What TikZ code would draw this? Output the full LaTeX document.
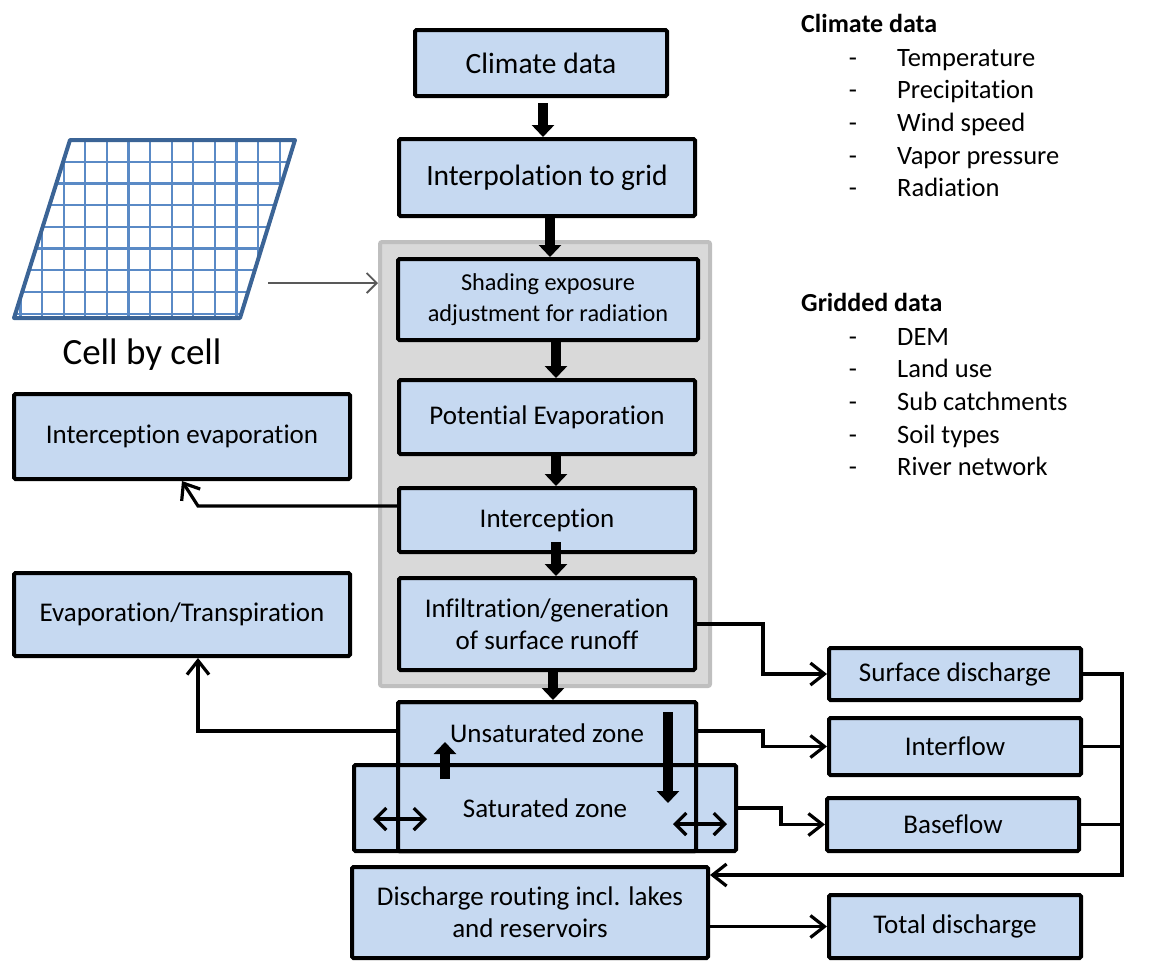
\documentclass[tikz,border=0pt]{standalone}
\usepackage{fontspec}
\setmainfont{Carlito}[Ligatures=NoCommon]
\usetikzlibrary{arrows.meta}
\definecolor{boxblue}{HTML}{C6D9F1}
\definecolor{bggray}{HTML}{D9D9D9}
\definecolor{bgedge}{HTML}{BFBFBF}
\definecolor{gridedge}{HTML}{3B6496}
\definecolor{gridline}{HTML}{5A8AC6}
\begin{document}
\begin{tikzpicture}[x=1pt,y=-1pt,
  box/.style={draw=black, line width=4pt, fill=boxblue, rounded corners=1.5pt,
    inner sep=0pt, align=center, font=\fontsize{27}{32}\selectfont},
  bigtext/.style={font=\fontsize{29.5}{34}\selectfont},
  thickarrow/.style={line width=10pt, -{Triangle[length=12pt,width=22pt]}},
  conn/.style={line width=3.2pt, -{Straight Barb[length=14pt,width=22pt,line width=3.2pt]}},
  plainline/.style={line width=2.6pt},
  dbl/.style={line width=3.2pt, {Straight Barb[length=11pt,width=22pt,line width=3.2pt]}-{Straight Barb[length=11pt,width=22pt,line width=3.2pt]}},
  listtext/.style={anchor=base west, inner sep=0pt, font=\fontsize{26.5}{32}\selectfont},
  dashtext/.style={anchor=base, inner sep=0pt, font=\fontsize{26.5}{32}\selectfont},
  headtext/.style={anchor=base west, inner sep=0pt, font=\bfseries\fontsize{26}{32}\selectfont}
]
\useasboundingbox (0,0) rectangle (1171,962);

% grid parallelogram
\begin{scope}
  \clip (70,140) -- (295,140) -- (240,318) -- (14,318) -- cycle;
  \foreach \k in {0,...,12} {
    \draw[gridline, line width=2.2pt] ({20.5+21.6*\k},130) -- ({20.5+21.6*\k},330);
  }
  \foreach \k in {1,...,8} {
    \draw[gridline, line width=2.2pt] (0,{140+21.7*\k}) -- (300,{140+21.7*\k});
  }
\end{scope}
\draw[gridedge, line width=4pt, line join=round] (70,140) -- (295,140) -- (240,318) -- (14,318) -- cycle;
\coordinate (gridpt) at (268,283);
\node[inner sep=0pt, font=\fontsize{37}{40}\selectfont] (cell) at (142,355) {Cell by cell};

% gray background
\node[draw=bgedge, fill=bggray, line width=4pt, rounded corners=2pt, minimum width=330pt, minimum height=444pt, inner sep=0pt] (bg) at (545,464) {};

% main boxes
\node[box, bigtext, minimum width=252pt, minimum height=66pt] (clim) at (541,63) {Climate data};
\node[box, bigtext, minimum width=296pt, minimum height=77pt] (interp) at (547,177.5) {Interpolation to grid};
\node[box, font=\fontsize{24.3}{31}\selectfont, minimum width=300pt, minimum height=81pt] (shade) at (548,299.5) {Shading exposure\\adjustment for radiation};
\node[box, minimum width=296pt, minimum height=74pt] (pot) at (547,417) {Potential Evaporation};
\node[box, minimum width=296pt, minimum height=64pt] (icpt) at (547,520) {Interception};
\node[box, minimum width=296pt, minimum height=92pt] (infil) at (547,624) {Infiltration/generation\\of surface runoff};
\node[box, minimum width=336pt, minimum height=85pt] (ievap) at (182,436.5) {Interception evaporation};
\node[box, minimum width=336pt, minimum height=83pt] (etrans) at (182,614.5) {Evaporation/Transpiration};

% unsaturated and saturated zones
\node[box, minimum width=298pt, minimum height=149pt] (unsat) at (547,776.5) {};
\node[box, minimum width=382pt, minimum height=86pt] (sat) at (545,808) {Saturated zone};
\node[draw=black, line width=4pt, rounded corners=1.5pt, minimum width=298pt, minimum height=149pt, inner sep=0pt] (unsatedge) at (547,776.5) {};
\node[inner sep=0pt, font=\fontsize{27}{32}\selectfont] (ulabel) at (547,733) {Unsaturated zone};

\node[box, minimum width=356pt, minimum height=91pt] (route) at (530,912.5) {Discharge routing incl. lakes\\and reservoirs};
\node[box, minimum width=252pt, minimum height=52pt] (surf) at (955,674) {Surface discharge};
\node[box, minimum width=252pt, minimum height=57pt] (intf) at (955,746.5) {Interflow};
\node[box, minimum width=252pt, minimum height=53pt] (base) at (953,824.5) {Baseflow};
\node[box, minimum width=252pt, minimum height=63pt] (total) at (955,926.5) {Total discharge};

% thick arrows along the main chain
\coordinate (a1) at (543,0);
\coordinate (a2) at (550,0);
\coordinate (a3) at (556,0);
\coordinate (a4) at (553,0);
\draw[thickarrow] ([yshift=-5pt]clim.south -| a1) -- (interp.north -| a1);
\draw[thickarrow] (interp.south -| a2) -- (shade.north -| a2);
\draw[thickarrow] (shade.south -| a3) -- (pot.north -| a3);
\draw[thickarrow] (pot.south -| a3) -- (icpt.north -| a3);
\draw[thickarrow] ([yshift=12pt]icpt.south -| a3) -- (infil.north -| a3);
\draw[thickarrow] (infil.south -| a4) -- (unsat.north -| a4);

% exchanges between zones
\coordinate (upb) at (445,779);
\coordinate (upt) at (445,742);
\coordinate (dnt) at (668,712);
\coordinate (dnb) at (668,803);
\draw[thickarrow] (upb) -- (upt);
\draw[thickarrow] (dnt) -- (dnb);
\coordinate (dl1) at (373,819);
\coordinate (dl2) at (427,819);
\coordinate (dr1) at (673,824);
\coordinate (dr2) at (727,824);
\draw[dbl] (dl1) -- (dl2);
\draw[dbl] (dr1) -- (dr2);

% grid to model
\draw[line width=1.8pt, draw=black!65, -{Straight Barb[length=10pt,width=20pt,line width=1.8pt]}] (gridpt) -- (gridpt -| bg.west);

% left side connectors
\coordinate (c1) at (198,506);
\draw[conn] (icpt.west |- c1) -- (c1) -- (ievap.south);
\coordinate (c2) at (198,731);
\draw[conn] (unsat.west |- c2) -- (c2) -- (c2 |- etrans.south);

% right side connectors
\coordinate (c3) at (763,0);
\coordinate (c4) at (781,0);
\coordinate (c5) at (1122,875);
\draw[conn] (infil.east) -| (c3 |- surf.west) -- (surf.west);
\draw[conn] (unsat.east |- c2) -| (c3 |- intf.west) -- (intf.west);
\draw[conn] (sat.east) -| (c4 |- base.west) -- (base.west);
\draw[conn] (surf.east) -| (c5) -- (c5 -| route.east);
\draw[plainline] (intf.east) -- (intf.east -| c5);
\draw[plainline] (base.east) -- (base.east -| c5);
\draw[conn] (route.east |- total.west) -- (total.west);

% data lists
\node[headtext] (hclim) at (801,32) {Climate data};
\foreach \t/\y/\n in {Temperature/66/t1, Precipitation/98/t2, Wind speed/131/t3, Vapor pressure/164/t4, Radiation/196/t5} {
  \node[dashtext] (d\n) at (853,\y) {-};
  \node[listtext] (\n) at (897,\y) {\t};
}
\node[headtext] (hgrid) at (801,311) {Gridded data};
\foreach \t/\y/\n in {DEM/345/g1, Land use/377/g2, Sub catchments/410/g3, Soil types/443/g4, River network/475/g5} {
  \node[dashtext] (d\n) at (853,\y) {-};
  \node[listtext] (\n) at (897,\y) {\t};
}
\end{tikzpicture}
\end{document}
